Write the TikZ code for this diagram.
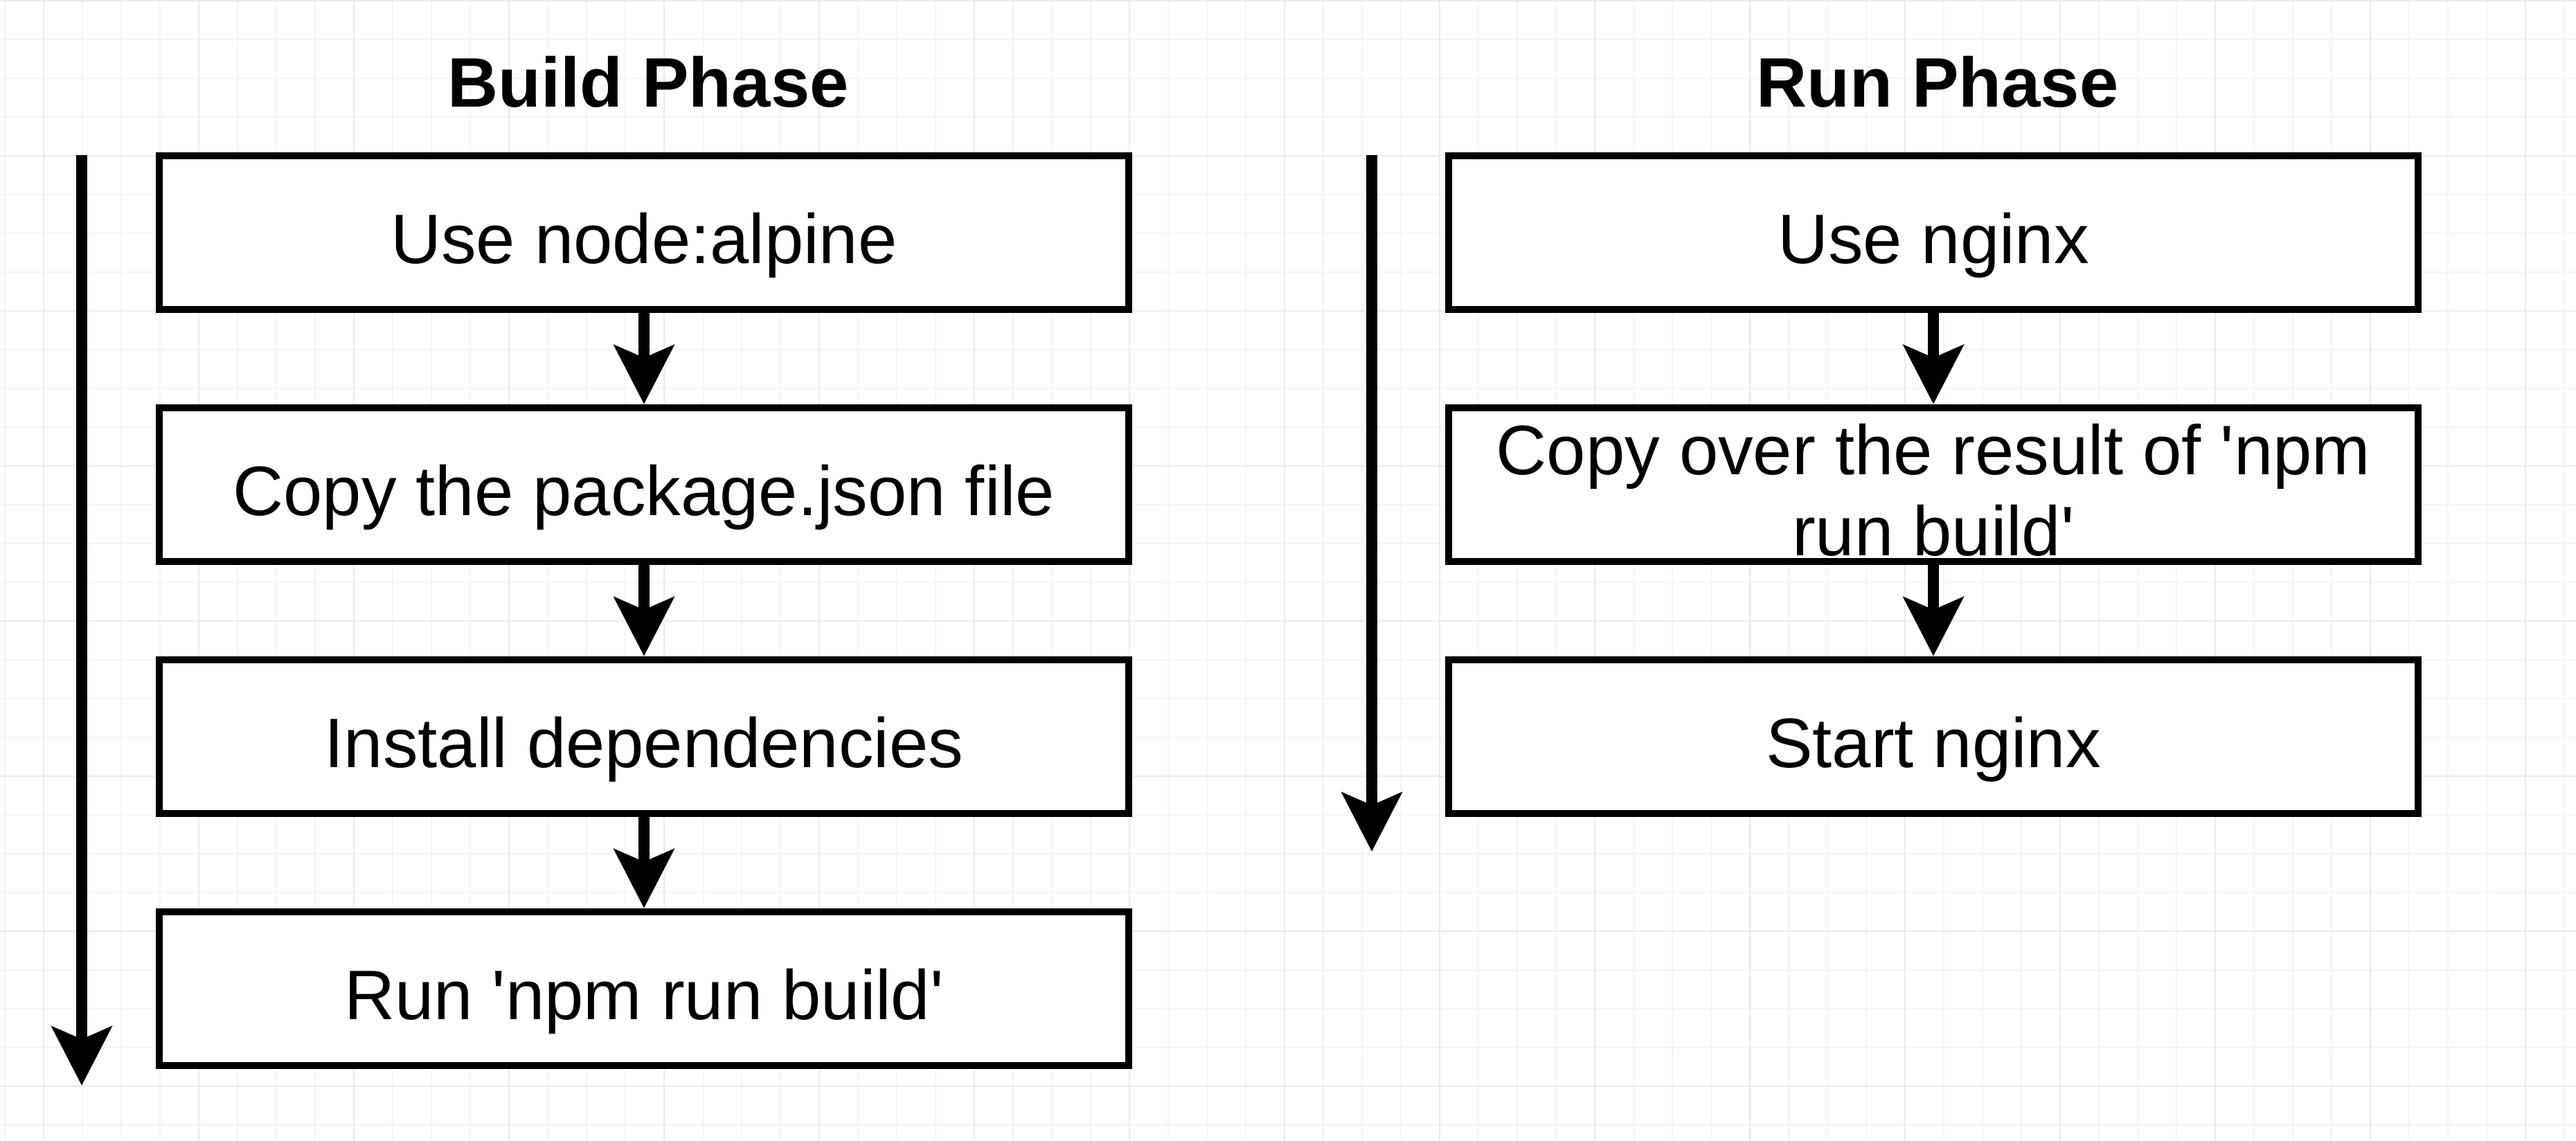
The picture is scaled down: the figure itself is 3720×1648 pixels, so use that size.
\documentclass[tikz,border=0pt]{standalone}
\usepackage{fontspec}
\setmainfont[Ligatures=TeXOff]{Liberation Sans}
\usetikzlibrary{arrows.meta}
\definecolor{gridminor}{HTML}{F5F5F5}
\definecolor{gridmajor}{HTML}{EBEBEB}
\tikzset{
  stepbox/.style={draw=black, line width=2.625pt, fill=white,
    minimum width=350pt, minimum height=55.5pt, inner sep=0pt,
    font=\fontsize{25.3}{29.25}\selectfont, align=center},
  oneline/.style={text height=23.2pt, text depth=0.75pt},
  flow/.style={line width=4pt,
    -{Stealth[length=21.25pt, width=21.5pt, inset=4.5pt]}},
  phasetitle/.style={font=\fontsize{25.3}{29.25}\selectfont\bfseries, inner sep=0pt, anchor=base}
}
\begin{document}
\begin{tikzpicture}[x=0.25pt, y=-0.25pt]
\useasboundingbox (0,0) rectangle (3720,1648);
\fill[white] (0,0) rectangle (3720,1648);
% background grid
\foreach \k in {0,...,66} {
  \pgfmathsetmacro{\gx}{7+56*\k}
  \draw[gridminor, line width=0.5pt] (\gx,0) -- (\gx,1648);
}
\foreach \k in {0,...,29} {
  \pgfmathsetmacro{\gy}{1+56*\k}
  \draw[gridminor, line width=0.5pt] (0,\gy) -- (3720,\gy);
}
\foreach \k in {0,...,16} {
  \pgfmathsetmacro{\gx}{63+224*\k}
  \draw[gridmajor, line width=0.5pt] (\gx,0) -- (\gx,1648);
}
\foreach \k in {0,...,7} {
  \pgfmathsetmacro{\gy}{1+224*\k}
  \draw[gridmajor, line width=0.5pt] (0,\gy) -- (3720,\gy);
}

% titles
\node[phasetitle] (tbuild) at (936,155) {Build Phase};
\node[phasetitle] (trun) at (2798,155) {Run Phase};

% build phase boxes
\node[stepbox, oneline] (b1) at (930,336) {Use node:alpine};
\node[stepbox, oneline] (b2) at (930,700) {Copy the package.json file};
\node[stepbox, oneline] (b3) at (930,1064) {Install dependencies};
\node[stepbox, oneline] (b4) at (930,1428) {Run 'npm run build'};

% run phase boxes
\node[stepbox, oneline] (r1) at (2792,336) {Use nginx};
\node[stepbox] (r2) at (2792,700) {\rule{0pt}{22.25pt}Copy over the result of 'npm\\run build'};
\node[stepbox, oneline] (r3) at (2792,1064) {Start nginx};

% connectors
\draw[flow] (b1) -- (b2);
\draw[flow] (b2) -- (b3);
\draw[flow] (b3) -- (b4);
\draw[flow] (r1) -- (r2);
\draw[flow] (r2) -- (r3);

% timeline arrows
\coordinate (ltop) at (118,224);
\coordinate (lbot) at (118,1568);
\coordinate (rtop) at (1981,224);
\coordinate (rbot) at (1981,1230);
\draw[flow] (ltop) -- (lbot);
\draw[flow] (rtop) -- (rbot);
\end{tikzpicture}
\end{document}
